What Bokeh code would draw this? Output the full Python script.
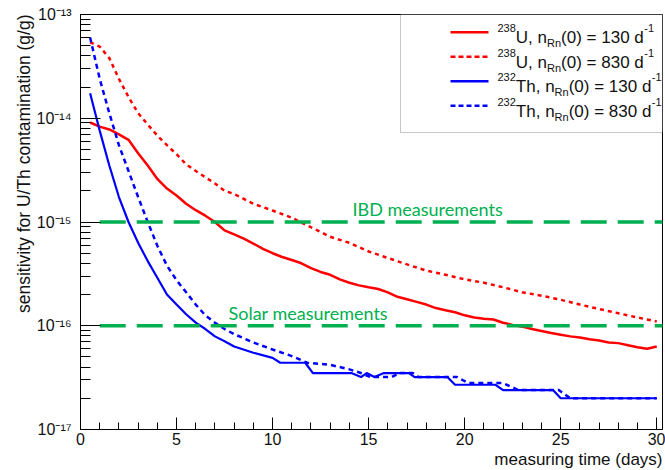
import math
from bokeh.plotting import figure
from bokeh.models import (Range1d, FixedTicker, CustomJSTickFormatter, Label,
                          Arrow, BoxAnnotation, Title)
from bokeh.embed import file_html
from bokeh.resources import INLINE

# ---------------- data ----------------
u130_days = [0.5, 1.0, 1.5, 2.0, 2.5, 3.0, 3.5, 4.0, 4.5, 5.0, 5.5, 6.0, 6.5, 7.0,
             7.5, 8.0, 8.5, 9.0, 9.5, 10.0, 10.5, 11.0, 11.5, 12.0, 12.5, 13.0,
             13.5, 14.0, 14.5, 15.0, 15.5, 16.0, 16.5, 17.0, 17.5, 18.0, 18.5,
             19.0, 19.5, 20.0, 20.5, 21.0, 21.5, 22.0, 22.5, 23.0, 23.5, 24.0,
             24.5, 25.0, 25.5, 26.0, 26.5, 27.0, 27.5, 28.0, 28.5, 29.0, 29.5, 30.0]
u130_sens = [9.1e-15, 8.3e-15, 7.8e-15, 7.0e-15, 6.2e-15, 4.6e-15, 3.5e-15, 2.6e-15,
             2.1e-15, 1.8e-15, 1.5e-15, 1.3e-15, 1.15e-15, 1.0e-15, 8.3e-16, 7.6e-16,
             6.9e-16, 6.2e-16, 5.5e-16, 5.0e-16, 4.6e-16, 4.3e-16, 4.0e-16, 3.6e-16,
             3.3e-16, 3.1e-16, 2.8e-16, 2.6e-16, 2.45e-16, 2.35e-16, 2.26e-16, 2.1e-16,
             1.9e-16, 1.8e-16, 1.7e-16, 1.6e-16, 1.48e-16, 1.41e-16, 1.35e-16, 1.26e-16,
             1.2e-16, 1.17e-16, 1.15e-16, 1.07e-16, 1.02e-16, 9.8e-17, 9.3e-17, 8.9e-17,
             8.5e-17, 8.2e-17, 7.9e-17, 7.7e-17, 7.4e-17, 7.2e-17, 6.9e-17, 6.8e-17,
             6.5e-17, 6.2e-17, 6.0e-17, 6.3e-17]

u830_days = [0.5, 1.0, 1.5, 2.0, 2.5, 3.0, 3.5, 4.0, 4.5, 5.0, 5.5, 6.0, 6.5, 7.0,
             7.5, 8.0, 9.0, 10.0, 11.0, 12.0, 13.0, 14.0, 15.0, 16.0, 17.0, 18.0,
             19.0, 20.0, 21.0, 22.0, 23.0, 24.0, 25.0, 26.0, 27.0, 28.0, 29.0, 30.0]
u830_sens = [5.4e-14, 4.9e-14, 3.8e-14, 2.4e-14, 1.6e-14, 1.12e-14, 8.7e-15, 6.8e-15,
             5.5e-15, 4.5e-15, 3.6e-15, 3.1e-15, 2.7e-15, 2.35e-15, 2.0e-15, 1.86e-15,
             1.5e-15, 1.29e-15, 1.1e-15, 8.9e-16, 7.2e-16, 6.3e-16, 5.2e-16, 4.5e-16,
             3.9e-16, 3.4e-16, 3.1e-16, 2.8e-16, 2.6e-16, 2.35e-16, 2.1e-16, 1.95e-16,
             1.78e-16, 1.6e-16, 1.45e-16, 1.32e-16, 1.2e-16, 1.1e-16]

th130_days = [0.5, 1.0, 1.5, 2.0, 2.5, 3.0, 3.5, 4.0, 4.5, 5.0, 5.5, 6.0, 6.5, 7.0,
              7.5, 8.0, 9.0, 10.0, 10.4, 11.7, 12.1, 14.1, 14.6, 14.9, 15.3, 15.8,
              17.1, 17.4, 19.1, 19.5, 21.6, 22.0, 24.6, 25.0, 30.0]
th130_sens = [1.74e-14, 7.6e-15, 3.5e-15, 1.74e-15, 1.0e-15, 6.3e-16, 4.2e-16, 2.9e-16,
              2.0e-16, 1.6e-16, 1.29e-16, 1.07e-16, 9.3e-17, 7.9e-17, 7.1e-17, 6.3e-17,
              5.5e-17, 4.9e-17, 4.4e-17, 4.4e-17, 3.5e-17, 3.5e-17, 3.2e-17, 3.5e-17,
              3.2e-17, 3.5e-17, 3.5e-17, 3.2e-17, 3.2e-17, 2.7e-17, 2.7e-17, 2.4e-17,
              2.4e-17, 2.0e-17, 2.0e-17]

th830_days = [0.5, 1.0, 1.5, 2.0, 2.5, 3.0, 3.5, 4.0, 4.5, 5.0, 5.5, 6.0, 6.5, 7.0,
              7.5, 8.0, 9.0, 10.0, 11.0, 11.8, 13.0, 14.0, 14.6, 15.1, 16.2, 16.6,
              17.3, 17.6, 19.6, 20.2, 22.0, 22.8, 24.9, 25.5, 30.0]
th830_sens = [6.0e-14, 2.4e-14, 1.12e-14, 5.5e-15, 3.1e-15, 1.74e-15, 1.0e-15, 5.9e-16,
              3.8e-16, 2.75e-16, 2.1e-16, 1.6e-16, 1.26e-16, 1.07e-16, 9.3e-17, 8.3e-17,
              6.9e-17, 5.9e-17, 5.1e-17, 4.4e-17, 4.2e-17, 3.8e-17, 3.5e-17, 3.2e-17,
              3.2e-17, 3.5e-17, 3.5e-17, 3.2e-17, 3.2e-17, 2.8e-17, 2.8e-17, 2.4e-17,
              2.4e-17, 2.0e-17, 2.0e-17]

ibd_days = [1.0, 30.5]
ibd_level = [1e-15, 1e-15]
solar_days = [1.0, 30.5]
solar_level = [1e-16, 1e-16]

x_ticks = [0, 5, 10, 15, 20, 25, 30]
y_ticks = [1e-17, 1e-16, 1e-15, 1e-14, 1e-13]
y_tick_labels = ["10\u207b\u00b9\u2077", "10\u207b\u00b9\u2076", "10\u207b\u00b9\u2075",
                 "10\u207b\u00b9\u2074", "10\u207b\u00b9\u00b3"]

legend_isotopes = ["238", "238", "232", "232"]
legend_elements = ["U", "U", "Th", "Th"]
legend_rates = ["130", "830", "130", "830"]

# ---------------- layout ----------------
W, H = 665, 470
BL, BR, BT, BB = 80, 3, 14, 41
FW, FH = W - BL - BR, H - BT - BB
X_MAX = 30.3
Y_LO, Y_HI = 1e-17, 1e-13
PAGE_FL = BL            # frame left on page
PAGE_FB = BT + FH       # frame bottom on page

def sx(px):
    return px - PAGE_FL

def sy(py):
    return PAGE_FB - py

AW = {'0': 556, '1': 556, '2': 556, '3': 556, '4': 556, '5': 556, '6': 556, '7': 556,
      '8': 556, '9': 556, 'U': 722, 'T': 611, 'h': 556, 'n': 556, 'R': 722, ',': 278,
      ' ': 278, '(': 333, ')': 333, '=': 584, 'd': 556, '-': 333}

def tw(s, size):
    return sum(AW.get(c, 556) for c in s) * size / 1000.0

FONT = "Liberation Sans"
RED, BLUE, GREEN = "#ff0000", "#0000ff", "#00b050"
INK = "#111111"

p = figure(width=W, height=H, x_range=Range1d(0, X_MAX), y_range=Range1d(Y_LO, Y_HI),
           y_axis_type="log", output_backend="svg", toolbar_location=None, title=None,
           min_border_left=BL, min_border_right=BR, min_border_top=BT, min_border_bottom=BB)
p.xgrid.visible = False
p.ygrid.visible = False
p.outline_line_color = "black"
p.outline_line_width = 1
p.background_fill_color = "white"
p.border_fill_color = "white"

minor_x = [d for d in range(1, 30) if d % 5 != 0]
p.xaxis.ticker = FixedTicker(ticks=x_ticks, minor_ticks=minor_x)
minor_y = []
for t in y_ticks[:-1]:
    for m in range(2, 10):
        minor_y.append(m * t)
p.yaxis.ticker = FixedTicker(ticks=y_ticks, minor_ticks=minor_y)

for ax in (p.xaxis[0], p.yaxis[0]):
    ax.axis_line_color = "black"
    ax.major_tick_line_color = "black"
    ax.minor_tick_line_color = "black"
    ax.major_tick_out = 0
    ax.minor_tick_out = 0
    ax.major_label_text_font = FONT
    ax.major_label_text_font_size = "16px"
    ax.major_label_text_color = INK
p.xaxis.major_tick_in = 12
p.xaxis.minor_tick_in = 7
p.yaxis.major_tick_in = 20
p.yaxis.minor_tick_in = 10
p.xaxis.major_label_standoff = 3
p.yaxis.major_label_standoff = 9
p.yaxis.formatter = CustomJSTickFormatter(
    args=dict(tvals=y_ticks, tlabels=y_tick_labels),
    code="""
const e = Math.log10(tick);
for (let i = 0; i < tvals.length; i++) {
  if (Math.abs(Math.log10(tvals[i]) - e) < 1e-6) return tlabels[i];
}
return '';
""")

# axis titles (right/top aligned as in ROOT)
p.add_layout(Title(text="measuring time (days)", align="right", text_font=FONT,
                   text_font_size="17px", text_font_style="normal", text_color=INK,
                   standoff=0, offset=0), "below")
p.add_layout(Title(text="sensitivity for U/Th contamination (g/g)", align="right",
                   text_font=FONT, text_font_size="17.5px", text_font_style="normal",
                   text_color=INK, standoff=0, offset=0), "left")

# curves
p.line(u130_days, u130_sens, line_color=RED, line_width=2.5)
p.line(u830_days, u830_sens, line_color=RED, line_width=2.5, line_dash="4 4")
p.line(th130_days, th130_sens, line_color=BLUE, line_width=2.2)
p.line(th830_days, th830_sens, line_color=BLUE, line_width=2.5, line_dash="5 4")

# limit lines
p.line(ibd_days, ibd_level, line_color=GREEN, line_width=3.5, line_dash="26 11")
p.line(solar_days, solar_level, line_color=GREEN, line_width=3.5, line_dash="26 11")

def lab(text, px, py, size, color=INK, font=FONT, align="left", baseline="alphabetic"):
    p.add_layout(Label(x=sx(px), y=sy(py), x_units="screen", y_units="screen",
                       text=text, text_font=font, text_font_size=f"{size}px",
                       text_color=color, text_align=align, text_baseline=baseline))

# green annotations
lab("IBD measurements", 352, 208, 18, color=GREEN, font="Lato")
lab("Solar measurements", 228, 312, 18, color=GREEN, font="Lato")

# legend
p.add_layout(BoxAnnotation(left=sx(400), right=sx(PAGE_FL + FW), top=sy(14), bottom=sy(132),
                           left_units="screen", right_units="screen",
                           top_units="screen", bottom_units="screen",
                           fill_color="white", fill_alpha=1.0,
                           line_color="#444444", line_width=1))
styles = [(RED, None), (RED, "5 3"), (BLUE, None), (BLUE, "5 3")]
for i in range(4):
    yc = 31.7 + 24.5 * i
    col, dash = styles[i]
    kw = dict(line_dash=dash) if dash else {}
    p.add_layout(Arrow(end=None, x_start=sx(450), y_start=sy(yc), x_end=sx(488), y_end=sy(yc),
                       start_units="screen", end_units="screen",
                       line_color=col, line_width=2.5, **kw))
    x = 497.0
    lab(legend_isotopes[i], x, yc - 4, 11)
    x += tw(legend_isotopes[i], 11)
    main1 = legend_elements[i] + ", n"
    lab(main1, x, yc + 5.5, 17)
    x += tw(main1, 17)
    lab("Rn", x, yc + 11, 11)
    x += tw("Rn", 11)
    main2 = "(0) = " + legend_rates[i] + " d"
    lab(main2, x, yc + 5.5, 17)
    x += tw(main2, 17)
    lab("-1", x + 0.5, yc - 4, 11)

open("out.html", "w").write(file_html(p, INLINE))
